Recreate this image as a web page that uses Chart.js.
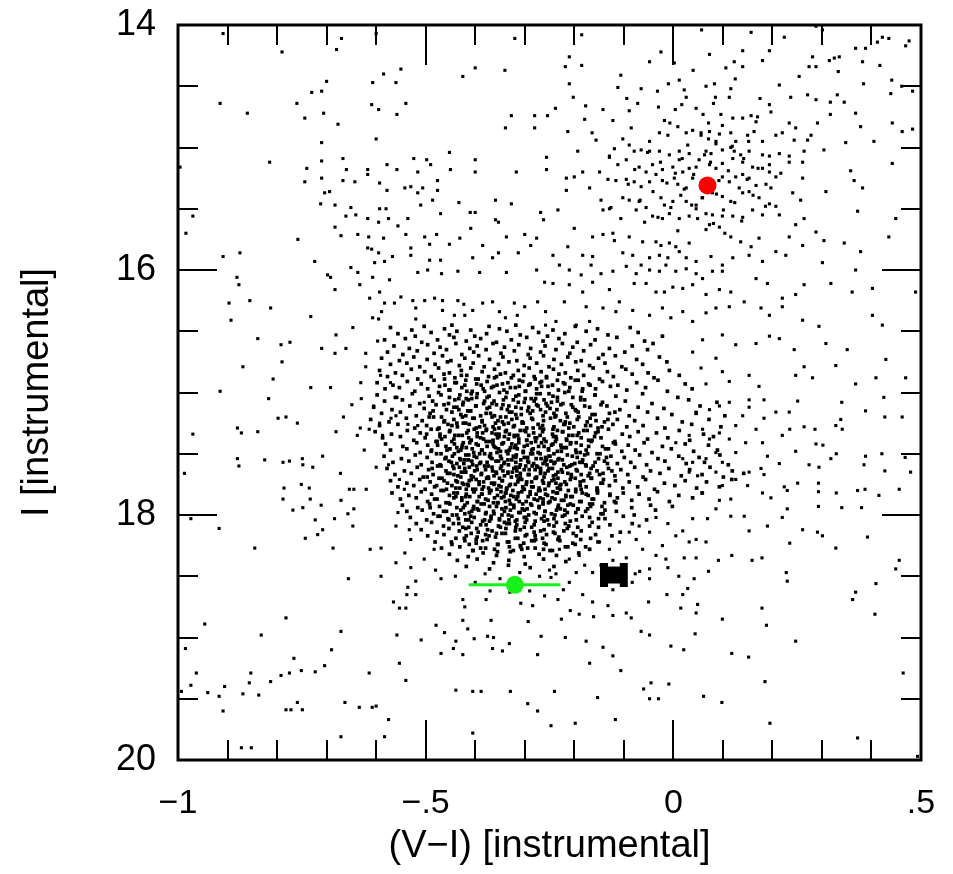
<!DOCTYPE html>
<html>
<head>
<meta charset="utf-8">
<script src="https://cdn.jsdelivr.net/npm/chart.js@4/dist/chart.umd.min.js"></script>
<style>
  html, body { margin: 0; padding: 0; background: #fff; }
  canvas { display: block; }
</style>
</head>
<body>
<canvas id="cmd" width="953" height="874"></canvas>
<script>
// axis ticks
const xTickValues = [-1, -0.5, 0, 0.5];
const xTickText = ["\u22121", "\u2212.5", "0", ".5"];
const yTickValues = [14, 16, 18, 20];
const xMinorTicks = [-0.9, -0.8, -0.7, -0.6, -0.4, -0.3, -0.2, -0.1, 0.1, 0.2, 0.3, 0.4];
const xMajorTicks = [-0.5, 0];
const yMinorTicks = [14.5, 15, 15.5, 16.5, 17, 17.5, 18.5, 19, 19.5];
const yMajorTicks = [16, 18];

// highlighted objects
const redStar = [0.069, 15.31];
const greenStar = [-0.32, 18.57];
const greenErr = [-0.413, -0.228];
const blackStar = [-0.14, -0.10, 18.49];

// field stars: [V-I, I]
const outerUpperLeft = [
[-.909,14.07],[-.79,14.22],[-.68,14.2],[-.67,14.11],[-.6,14.07],[-.32,14.11],[-.55,14.36],[-.585,14.4],[-.607,14.47],[-.56,14.47],[-.425,14.42],[-.4,14.35],[-.34,14.37],[-.7,14.46],[-.73,14.55],[-.71,14.54],[-.915,14.64],[-.76,14.64],[-.86,14.72],[-.744,14.76],[-.706,14.72],[-.677,14.81],[-.609,14.65],[-.595,14.69],[-.558,14.73],[-.54,14.64],[-.6,14.93],[-.71,14.96],[-.339,14.84],[-.327,14.74],[-.28,14.74],[-.28,14.84],[-.254,14.74],[-.815,15.12],[-.996,15.16],[-.71,15.11],[-.667,15.09],[-.74,15.17],[-.66,15.18],[-.617,15.18],[-.744,15.28],[-.71,15.25],[-.667,15.27],[-.643,15.28],[-.617,15.22],[-.593,15.29],[-.578,15.14],[-.558,15.18],[-.524,15.09],[-.516,15.2],[-.498,15.1],[-.49,15.14],[-.476,15.27],[-.452,15.04],[-.45,15.18],[-.4,15.1],[-.4,15.2],[-.317,15.2],[-.256,15.08],[-.256,15.18],[-.704,15.37],[-.694,15.36],[-.578,15.35],[-.542,15.33],[-.53,15.32],[-.516,15.37],[-.506,15.33],[-.476,15.35],[-.486,15.43],[-.51,15.47],[-.433,15.45],[-.359,15.43],[-.327,15.46],[-.712,15.46],[-.683,15.47],[-.651,15.49],[-.593,15.5],[-.58,15.5],[-.97,15.56],[-.984,15.7],[-.641,15.55],[-.661,15.56],[-.617,15.58],[-.595,15.61],[-.575,15.58],[-.536,15.58],[-.47,15.54],[-.41,15.53],[-.4,15.53],[-.359,15.59],[-.353,15.61],[-.268,15.53],[-.262,15.59],[-.683,15.65],[-.671,15.72],[-.637,15.71],[-.615,15.73],[-.585,15.74],[-.556,15.64],[-.54,15.71],[-.502,15.73],[-.492,15.79],[-.478,15.71],[-.452,15.79],[-.431,15.74],[-.409,15.66],[-.385,15.8],[-.337,15.73],[-.3,15.71],[-.276,15.74],[-.288,15.8],[-.758,15.75],[-.909,15.89],[-.875,15.86],[-.724,15.93],[-.617,15.82],[-.609,15.83],[-.595,15.86],[-.567,15.89],[-.53,15.82],[-.53,15.88],[-.492,15.92],[-.47,15.92],[-.405,15.9],[-.365,15.9],[-.353,15.86],[-.313,15.86],[-.603,15.94],[-.583,15.93],[-.651,15.98],[-.637,16.02],[-.692,16.06],[-.698,16.04],[-.683,16.16],[-.633,16.12],[-.607,16.06],[-.573,16.08],[-.516,16.02],[-.496,16],[-.468,16.03],[-.435,16.01],[-.391,16.02],[-.337,16.02],[-.276,16],[-.26,16.1],[-.881,16.06],[-.877,16.12],[-.897,16.27],[-.855,16.25],[-.813,16.31],[-.893,16.41],[-.732,16.38],[-.613,16.23],[-.593,16.18],[-.583,16.27],[-.563,16.27],[-.589,16.34],[-.607,16.39],[-.595,16.4],[-.55,16.22],[-.526,16.25],[-.52,16.31],[-.52,16.4],[-.502,16.25],[-.482,16.23],[-.466,16.25],[-.435,16.25],[-.423,16.28],[-.466,16.33],[-.442,16.37],[-.421,16.37],[-.405,16.33],[-.385,16.27],[-.365,16.26],[-.351,16.34],[-.339,16.39],[-.321,16.27],[-.315,16.37],[-.3,16.3],[-.274,16.26],[-.258,16.34],[-.258,16.45],[-.839,16.56],[-.792,16.61],[-.774,16.59],[-.79,16.75],[-.869,16.79],[-.808,16.89],[-.732,16.96],[-.915,16.99],[-.71,16.64],[-.681,16.53],[-.661,16.64],[-.683,16.68],[-.647,16.47],[-.621,16.68],[-.621,16.79],[-.597,16.58],[-.692,16.96],[-.631,16.92],[-.591,16.86],[-.571,16.92]
];

const outerLowerLeft = [
[-.97,17.34],[-.872,17.33],[-.839,17.32],[-.88,17.29],[-.817,17.05],[-.798,17.21],[-.782,17.2],[-.759,17.25],[-.681,17.32],[-.666,17.2],[-.649,17.1],[-.63,17.05],[-.638,17.35],[-.632,17.29],[-.614,17.3],[-.605,17.11],[-.593,17.25],[-.587,17.35],[-.57,17.21],[-.56,17.19],[-.558,17.04],[-.536,17.26],[-.516,17.27],[-.503,17.08],[-.624,17.47],[-.708,17.52],[-.749,17.54],[-.748,17.59],[-.775,17.56],[-.788,17.57],[-.825,17.55],[-.877,17.6],[-.88,17.54],[-.987,17.66],[-.728,17.61],[-.672,17.66],[-.751,17.75],[-.735,17.78],[-.786,17.78],[-.788,17.87],[-.768,17.96],[-.748,17.94],[-.733,17.87],[-.711,17.92],[-.671,17.88],[-.654,17.79],[-.645,17.79],[-.62,17.79],[-.657,17.99],[-.645,17.95],[-.647,18.09],[-.684,18.03],[-.723,18.04],[-.708,18.12],[-.718,18.16],[-.743,18.19],[-.917,18.11],[-.974,18.03],[-.845,18.27],[-.687,18.27],[-.612,18.28],[-.59,18.27],[-.6,17.61],[-.575,17.59],[-.553,17.71],[-.543,17.79],[-.556,17.98],[-.56,18.09],[-.533,18.12],[-.53,18.2],[-.542,18.31],[-.56,18.39],[-.53,18.43],[-.503,18.36],[-.483,18.28],[-.656,18.52],[-.59,18.5],[-.536,18.59],[-.538,18.65],[-.52,18.65],[-.52,18.54],[-.565,18.71],[-.553,18.76],[-.54,18.76],[-.469,18.52],[-.425,18.69],[-.421,18.75],[-.378,18.69],[-.308,18.72],[-.284,18.74],[-.293,18.87],[-.368,18.86],[-.425,18.86],[-.415,18.93],[-.375,18.99],[-.363,19],[-.402,19.01],[-.439,19.03],[-.462,18.96],[-.479,18.9],[-.509,19.02],[-.558,18.98],[-.444,19.09],[-.425,19.14],[-.469,19.13],[-.365,19.09],[-.345,19.11],[-.331,19.05],[-.274,19.14],[-.267,18.99],[-.671,18.95],[-.69,19.1],[-.782,18.84],[-.832,18.98],[-.946,18.89],[-.985,19.09],[-.766,19.17],[-.704,19.23],[-.723,19.28],[-.751,19.27],[-.775,19.29],[-.792,19.31],[-.813,19.36],[-.853,19.29],[-.856,19.37],[-.837,19.47],[-.869,19.46],[-.906,19.4],[-.917,19.48],[-.94,19.45],[-.974,19.39],[-.993,19.44],[-.963,19.29],[-.909,19.6],[-.782,19.59],[-.772,19.59],[-.749,19.59],[-.759,19.53],[-.663,19.53],[-.634,19.57],[-.608,19.57],[-.6,19.56],[-.614,19.29],[-.553,19.21],[-.54,19.35],[-.575,19.67],[-.671,19.81],[-.583,19.81],[-.405,19.78],[-.439,19.43],[-.405,19.44],[-.388,19.44],[-.329,19.44],[-.294,19.54],[-.274,19.6],[-.872,19.9],[-.852,19.9],
[-.38,18.48],[-.35,18.52],[-.31,18.47],[-.27,18.5],[-.25,18.45],[-.4,18.55],[-.33,18.63],[-.29,18.62],[-.37,18.62],[-.26,18.66],[-.44,18.5],[-.48,18.45]
];

const outerLowerRight = [
[.153,17.06],[.183,17.06],[.251,17.07],[.207,17.16],[.234,17.16],[.183,17.21],[.264,17.28],[.286,17.3],[.235,17.3],[.34,17.08],[.338,17.22],[.341,17.3],[.328,17.27],[.388,17.15],[.425,17.04],[.427,17.2],[.462,17.2],[.288,17.42],[.302,17.43],[.247,17.48],[.329,17.5],[.318,17.54],[.274,17.59],[.294,17.61],[.385,17.59],[.388,17.52],[.421,17.5],[.468,17.53],[.479,17.65],[.427,17.64],[.19,17.52],[.214,17.58],[.177,17.62],[.183,17.67],[.153,17.65],[.15,17.76],[.126,17.71],[.18,17.82],[.197,17.86],[.224,17.77],[.251,17.74],[.23,17.8],[.293,17.74],[.293,17.81],[.329,17.82],[.372,17.8],[.387,17.79],[.415,17.84],[.456,17.79],[.293,17.93],[.34,17.94],[.38,17.94],[.23,17.95],[.22,18.02],[.19,18.09],[.153,18.13],[.261,18.12],[.291,18.14],[.301,18.17],[.392,18.18],[.328,18.27],[.235,18.23],[.179,18.35],[.159,18.37],[.118,18.33],[.091,18.37],[.071,18.46],[.046,18.35],[.022,18.35],[.456,18.37],[.449,18.44],[.409,18.56],[.368,18.63],[.362,18.69],[.407,18.81],[.228,18.47],[.23,18.54],[.179,18.76],[.188,18.9],[.247,19.03],[.118,19.13],[.152,19.16],[.099,18.85],[.046,18.8],[.049,18.73],[.015,18.76],[.029,18.6],[.019,18.65],[.042,18.52],[.011,18.5],[-.011,18.43],[-.013,18.65],[-.05,18.71],[-.065,18.95],[-.048,18.98],[-.005,19.07],[.021,19.1],[.044,18.97],[-.085,18.84],[-.095,18.8],[-.122,18.82],[-.132,18.74],[-.163,18.71],[-.161,18.83],[-.19,18.81],[-.208,18.78],[-.226,18.85],[-.233,18.69],[-.218,19],[-.176,19.03],[-.142,19.08],[-.122,19.15],[-.169,19.21],[-.106,19.27],[-.24,19.44],[-.153,19.49],[-.06,19.42],[-.045,19.37],[-.048,19.5],[-.03,19.5],[-.009,19.38],[.061,19.48],[.098,19.53],[.185,19.36],[.195,19.7],[-.117,19.67],[-.198,19.7],[-.247,19.72],[.372,19.82],[.464,19.29],[.493,19.97],[-.122,18.61],[-.183,18.65],[-.222,18.61],[-.21,18.55],[-.163,18.47],[-.077,18.48],[-.083,18.55],[-.048,18.52],[-.015,18.36],[-.048,18.44],[-.068,18.46],[-.095,18.35],[-.122,18.37],[-.146,18.41],[-.196,18.47],[-.179,18.41],[-.237,18.48],[-.247,18.51]
];

const redSideTail = [
[.086,17.65],[.099,17.76],[.116,17.87],[.143,18.01],[.116,18.01],[.093,17.88],[.059,17.82],[.049,17.68],[.032,17.65],[.086,17.95],[.069,18.03],[.039,18.03],[.019,18.13],[.046,18.2],[.066,18.22],[.032,18.22],[.005,18.17],[-.011,18.07],[-.022,18.25],[-.035,18.33],[-.062,18.28],[-.075,18.2],[-.048,18.14],[-.035,18.02],[-.069,18.09],[-.089,18.14],[-.109,18.22],[-.129,18.28],[-.149,18.22],[-.169,18.28],[-.19,18.33],[-.21,18.36],[-.23,18.28],[.005,17.41],[.032,17.35],[.059,17.3],[.073,17.38],[.093,17.33],[.113,17.38],[.126,17.27],[.146,17.41],[.126,17.49],[.086,17.49],[.099,17.57],[.066,17.54],[.039,17.57],[.019,17.54],[.046,17.16],[.073,17.14],[.093,17.11],[.113,17.08],[.153,17.12],[.14,17.19],[.167,17.3],[.18,17.41],[.22,17.35]
];

const clumpStars = [
[.057,14.04],[.157,14.06],[.194,14.21],[.224,14.1],[.288,14.01],[.301,14.04],[.422,14.1],[.435,14.11],[.368,14.19],[.388,14.19],[.476,14.13],[.469,14.17],[.412,14.14],[-.185,14.08],[-.21,14.26],[-.185,14.33],[-.218,14.34],[-.025,14.22],[-.048,14.3],[.002,14.31],[.04,14.37],[.073,14.24],[.106,14.35],[.123,14.3],[.14,14.34],[.18,14.29],[.14,14.21],[.281,14.26],[.288,14.34],[.274,14.34],[.315,14.29],[.335,14.26],[.325,14.27],[.382,14.3],[.417,14.33],[.333,14.38],[.254,14.42],[.441,14.45],[.384,14.48],[.461,14.5],[.483,14.54],[.439,14.56],
[-.106,14.41],[-.21,14.48],[-.112,14.51],[-.065,14.52],[-.032,14.54],[-.01,14.48],[.012,14.45],[.022,14.53],[.026,14.59],[.066,14.5],[.083,14.48],[.085,14.59],[.116,14.52],[.113,14.59],[.125,14.44],[.175,14.6],[.214,14.49],[.237,14.59],[.271,14.57],[.288,14.61],[.331,14.57],[.345,14.63],[.317,14.63],[-.202,14.59],[-.238,14.68],[-.177,14.66],[-.142,14.69],[-.094,14.6],[-.089,14.7],[-.072,14.64],[-.03,14.67],[-.018,14.78],[-.007,14.8],[.004,14.69],[.017,14.65],[.046,14.68],[.06,14.73],[.071,14.8],[.081,14.64],[.096,14.73],[.099,14.82],[.12,14.76],[.14,14.76],[.157,14.74],[.17,14.75],[.197,14.71],[.167,14.79],[.194,14.65],[.234,14.8],[.247,14.84],[.291,14.8],[.317,14.73],[.368,14.72],[.378,14.83],[.442,14.8],[.462,14.87],[.483,14.85],[-.122,14.78],[-.179,14.77],[-.164,14.88],[-.213,14.87],
[-.085,14.84],[-.102,14.93],[-.048,14.95],[-.028,14.88],[-.011,14.9],[.009,14.83],[.026,14.88],[.039,14.86],[.056,14.9],[.073,14.87],[.086,14.95],[.093,14.89],[.116,14.88],[.126,14.95],[.15,14.9],[.163,14.87],[.18,14.95],[.207,14.9],[.22,14.88],[.244,14.94],[.271,14.94],[.278,14.9],[.348,14.96],[.405,14.95],[-.156,14.94],[-.193,15.03],[-.129,15.07],[-.119,15.01],[-.089,14.98],[-.079,15.03],[-.065,15.02],[-.048,15.03],[-.028,15.03],[-.008,15.06],[.012,15.03],[.012,15.1],[.032,15.05],[.052,15.1],[.066,15.03],[.076,15.05],[.086,14.97],[.099,15.02],[.116,15],[.123,15.03],[.136,15.06],[.153,15.03],[.18,15.06],[.194,15.07],[.214,15.05],[.234,15.07],[.264,15.03],[.304,15.02],[.261,15.12],[.234,15.12],[.194,15.14],[.18,15.17],[.16,15.16],[.14,15.12],[.12,15.09],[.099,15.13],[.086,15.17],[.073,15.14],[.046,15.16],[.032,15.17],[.019,15.2],[-.001,15.16],[-.022,15.18],[-.042,15.14],[-.055,15.2],[-.069,15.16],[-.095,15.1],[-.112,15.14],[-.129,15.08],[-.149,15.2],[-.183,15.2],[-.2,15.24],[-.216,15.25],[.442,15.13],[.358,15.19],[.365,15.27],[.382,15.33],
[-.216,15.35],[-.169,15.33],[-.132,15.26],[-.116,15.27],[-.095,15.26],[-.079,15.28],[-.065,15.32],[-.048,15.28],[-.035,15.22],[-.022,15.27],[.002,15.25],[.009,15.3],[.026,15.33],[.039,15.25],[.099,15.24],[.113,15.28],[.126,15.24],[.14,15.22],[.153,15.25],[.167,15.31],[.187,15.3],[.207,15.24],[.194,15.2],[.241,15.37],[.257,15.43],[.261,15.25],[.308,15.36],[.372,15.52],[.449,15.58],[-.146,15.43],[-.129,15.5],[-.102,15.41],[-.089,15.43],[-.069,15.44],[-.055,15.49],[-.025,15.41],[-.018,15.47],[-.001,15.44],[.015,15.39],[.026,15.44],[.046,15.47],[.059,15.41],[.079,15.37],[.099,15.4],[.116,15.44],[.14,15.37],[.153,15.36],[.173,15.41],[.194,15.46],[.207,15.48],[.214,15.55],[.18,15.55],[.16,15.51],[.14,15.57],[.12,15.56],[.099,15.56],[.079,15.55],[.066,15.54],[.046,15.5],[.032,15.56],[.012,15.58],[-.008,15.54],[-.022,15.58],[-.042,15.56],[-.058,15.61],[-.075,15.51],[-.106,15.58],[-.126,15.49],[-.142,15.51],[-.233,15.51],[.247,15.63],[.264,15.58],
[-.2,15.66],[-.243,15.88],[-.163,15.73],[-.142,15.71],[-.122,15.7],[-.119,15.76],[-.089,15.73],[-.062,15.77],[-.035,15.77],[-.025,15.8],[-.008,15.78],[.005,15.81],[.032,15.78],[.066,15.67],[.073,15.63],[.093,15.65],[.116,15.73],[.136,15.77],[.157,15.81],[.173,15.74],[.207,15.85],[.234,15.73],[.261,15.8],[.288,15.69],[.304,15.76],[.345,15.78],[.378,15.85],[.435,15.73],[-.213,15.81],[-.183,15.88],[-.163,15.89],[-.102,15.86],[-.082,15.88],[-.065,15.96],[-.048,15.9],[-.028,15.88],[-.011,15.9],[.012,15.85],[.026,15.9],[.046,15.93],[.076,15.89],[.099,15.96],[.12,15.9],[.153,15.88],[.18,15.93],[.227,15.88],[.301,15.94],[.368,16],[-.23,15.96],[-.21,16],[-.166,15.96],[-.186,16.04],[-.146,16.03],[-.122,16.01],[-.095,15.97],[-.075,16.03],[-.048,16],[-.028,16.01],[-.015,15.96],[.005,16.01],[.026,15.99],[.046,16.03],[.059,16.07],[.079,16.01],[.099,16.01],
[-.243,16.11],[-.21,16.12],[-.183,16.18],[-.163,16.1],[-.129,16.16],[-.109,16.26],[-.079,16.11],[-.055,16.11],[-.035,16.18],[-.018,16.18],[-.001,16.14],[.019,16.15],[.039,16.12],[.066,16.2],[.093,16.16],[.116,16.18],[.167,16.07],[.19,16.11],[.22,16.23],[.247,16.2],[.264,16.12],[.318,16.11],[.361,16.18],[.402,16.15],[.489,16.18],[-.22,16.26],[-.176,16.3],[-.142,16.31],[-.116,16.34],[-.082,16.33],[-.048,16.37],[-.022,16.31],[-.005,16.39],[.019,16.34],[.039,16.42],[.066,16.35],[.086,16.31],[.113,16.3],[.143,16.26],[.177,16.31],[.194,16.37],[.22,16.3],[.261,16.41],[.294,16.46],[.402,16.37],[.422,16.45],[-.237,16.42],[-.196,16.45],[-.169,16.42],
[.099,16.53],[.126,16.61],[.167,16.6],[.214,16.56],[.244,16.65],[.194,16.54],[.308,16.6],[.351,16.65],[.328,16.78],[.429,16.73],[.469,16.88],[.247,16.86],[.264,16.79],[.153,16.86],[.173,16.95],[.281,16.88],[.409,16.88],[.368,16.93],[.059,16.57],[.039,16.67],[.086,16.72],[.056,16.8],[.099,16.83],[.066,16.93],[.113,16.91]
];

// extra stars packed round the red star
const clumpDense = [
[.041,15.22],[.092,15.27],[.022,15.34],[.111,15.19],[.058,15.41],[-.013,15.29],[.133,15.33],[.075,15.12],[.004,15.21],[.149,15.26],[.037,15.47],[.087,15.38],[-.041,15.36],[.124,15.45],[.063,15.06],[-.026,15.12],[.171,15.17],[.018,15.09],[.101,15.51],[-.067,15.43],[.142,15.09],[.049,15.58],[-.005,15.49],[.161,15.39],[.081,15.62],[-.052,15.04],[.197,15.33],[.029,14.98],[.119,14.99],[-.091,15.3],[.071,14.93],[.186,15.48],[-.031,15.57],[.138,15.6],[.009,15.68],[.217,15.21],[-.078,15.18],[.104,15.7],[.056,14.88],[.152,14.95]
];

const bandStars = [
[-.571,16.47],[-.528,16.49],[-.503,16.46],[-.462,16.48],[-.447,16.45],[-.409,16.49],[-.372,16.46],[-.351,16.48],[-.318,16.45],[-.284,16.47],[-.243,16.49],[-.198,16.46],[-.153,16.48],[-.087,16.47],
[-.556,16.52],[-.521,16.54],[-.489,16.51],[-.452,16.53],[-.437,16.5],[-.401,16.54],[-.377,16.52],[-.336,16.5],[-.309,16.53],[-.272,16.51],[-.254,16.54],[-.219,16.52],[-.176,16.5],[-.132,16.53],[-.071,16.51],[-.022,16.54],
[-.583,16.57],[-.541,16.56],[-.508,16.59],[-.476,16.57],[-.443,16.55],[-.418,16.58],[-.389,16.56],[-.357,16.59],[-.327,16.57],[-.296,16.55],[-.263,16.58],[-.231,16.56],[-.194,16.59],[-.158,16.57],[-.114,16.55],[-.058,16.58],
[-.564,16.62],[-.533,16.64],[-.496,16.61],[-.471,16.63],[-.439,16.6],[-.411,16.64],[-.396,16.62],[-.364,16.6],[-.341,16.63],[-.312,16.61],[-.288,16.64],[-.259,16.62],[-.224,16.6],[-.203,16.63],[-.167,16.61],[-.129,16.64],[-.083,16.62],[-.041,16.6],
[-.577,16.67],[-.546,16.69],[-.517,16.66],[-.483,16.68],[-.458,16.65],[-.427,16.69],[-.403,16.67],[-.378,16.65],[-.348,16.68],[-.321,16.66],[-.293,16.69],[-.268,16.67],[-.237,16.65],[-.209,16.68],[-.181,16.66],[-.142,16.69],[-.098,16.67],[-.052,16.65],
[-.589,16.72],[-.553,16.74],[-.524,16.71],[-.497,16.73],[-.466,16.7],[-.449,16.74],[-.421,16.72],[-.393,16.7],[-.371,16.73],[-.344,16.71],[-.316,16.74],[-.289,16.72],[-.262,16.7],[-.241,16.73],[-.213,16.71],[-.186,16.74],[-.151,16.72],[-.117,16.7],[-.074,16.73],[-.028,16.71],
[-.571,16.77],[-.538,16.76],[-.512,16.79],[-.481,16.77],[-.456,16.75],[-.432,16.78],[-.404,16.76],[-.382,16.79],[-.353,16.77],[-.332,16.75],[-.301,16.78],[-.276,16.76],[-.251,16.79],[-.226,16.77],[-.197,16.75],[-.169,16.78],[-.138,16.76],[-.104,16.79],[-.062,16.77],[-.013,16.75],
[-.593,16.82],[-.561,16.84],[-.529,16.81],[-.502,16.83],[-.474,16.8],[-.452,16.84],[-.428,16.82],[-.409,16.8],[-.386,16.83],[-.361,16.81],[-.339,16.84],[-.313,16.82],[-.291,16.8],[-.267,16.83],[-.242,16.81],[-.218,16.84],[-.193,16.82],[-.162,16.8],[-.133,16.83],[-.096,16.81],[-.051,16.84],[-.008,16.82],
[-.577,16.87],[-.547,16.86],[-.516,16.89],[-.489,16.87],[-.463,16.85],[-.441,16.88],[-.417,16.86],[-.394,16.89],[-.373,16.87],[-.349,16.85],[-.327,16.88],[-.302,16.86],[-.279,16.89],[-.256,16.87],[-.231,16.85],[-.207,16.88],[-.181,16.86],[-.149,16.89],[-.121,16.87],[-.083,16.85],[-.039,16.88],[.012,16.86],
[-.598,16.92],[-.566,16.94],[-.537,16.91],[-.509,16.93],[-.483,16.9],[-.461,16.94],[-.438,16.92],[-.419,16.9],[-.397,16.93],[-.376,16.91],[-.356,16.94],[-.334,16.92],[-.311,16.9],[-.289,16.93],[-.266,16.91],[-.244,16.94],[-.222,16.92],[-.198,16.9],[-.171,16.93],[-.143,16.91],[-.112,16.94],[-.074,16.92],[-.031,16.9],[.024,16.93],
[-.582,16.97],[-.553,16.96],[-.522,16.99],[-.496,16.97],[-.472,16.95],[-.451,16.98],[-.427,16.96],[-.406,16.99],[-.384,16.97],[-.363,16.95],[-.342,16.98],[-.319,16.96],[-.298,16.99],[-.276,16.97],[-.253,16.95],[-.232,16.98],[-.209,16.96],[-.184,16.99],[-.157,16.97],[-.127,16.95],[-.094,16.98],[-.056,16.96],[-.012,16.99],[.038,16.97]
];

const coreStars = [
[-.598,17.02],[-.561,17.04],[-.527,17.01],[-.493,17.03],[-.474,17],[-.452,17.04],[-.431,17.02],[-.418,17.05],[-.396,17.01],[-.372,17.03],[-.351,17],[-.338,17.04],[-.312,17.02],[-.287,17.05],[-.269,17.01],[-.243,17.03],[-.219,17],[-.187,17.04],[-.158,17.02],[-.116,17.03],[-.062,17.01],[.009,17.04],
[-.583,17.07],[-.547,17.06],[-.512,17.09],[-.486,17.07],[-.463,17.1],[-.441,17.06],[-.424,17.08],[-.407,17.05],[-.383,17.09],[-.362,17.07],[-.344,17.1],[-.323,17.06],[-.301,17.08],[-.278,17.05],[-.257,17.09],[-.234,17.07],[-.206,17.1],[-.179,17.06],[-.143,17.08],[-.097,17.07],[-.043,17.09],[.031,17.06],[.088,17.08],
[-.605,17.12],[-.568,17.14],[-.532,17.11],[-.503,17.13],[-.479,17.1],[-.458,17.14],[-.437,17.12],[-.415,17.15],[-.399,17.11],[-.376,17.13],[-.357,17.1],[-.335,17.14],[-.318,17.12],[-.294,17.15],[-.273,17.11],[-.249,17.13],[-.227,17.1],[-.198,17.14],[-.169,17.12],[-.134,17.11],[-.108,17.14],[-.071,17.12],[-.019,17.13],[.054,17.11],
[-.589,17.17],[-.551,17.16],[-.519,17.19],[-.491,17.17],[-.468,17.2],[-.447,17.16],[-.429,17.18],[-.411,17.15],[-.389,17.19],[-.369,17.17],[-.349,17.2],[-.331,17.16],[-.307,17.18],[-.284,17.15],[-.263,17.19],[-.241,17.17],[-.214,17.2],[-.192,17.16],[-.164,17.18],[-.129,17.17],[-.089,17.19],[-.052,17.16],[-.003,17.18],[.046,17.17],[.104,17.19],
[-.611,17.22],[-.574,17.24],[-.539,17.21],[-.507,17.23],[-.484,17.2],[-.463,17.24],[-.443,17.22],[-.424,17.25],[-.405,17.21],[-.386,17.23],[-.366,17.2],[-.345,17.24],[-.326,17.22],[-.305,17.25],[-.286,17.21],[-.262,17.23],[-.239,17.2],[-.218,17.24],[-.194,17.22],[-.168,17.21],[-.139,17.24],[-.113,17.22],[-.078,17.23],[-.032,17.21],[.018,17.24],[.072,17.22],
[-.593,17.27],[-.556,17.26],[-.522,17.29],[-.498,17.27],[-.476,17.3],[-.455,17.26],[-.436,17.28],[-.419,17.25],[-.398,17.29],[-.381,17.27],[-.361,17.3],[-.342,17.26],[-.323,17.28],[-.303,17.25],[-.283,17.29],[-.264,17.27],[-.243,17.3],[-.221,17.26],[-.201,17.28],[-.177,17.27],[-.152,17.29],[-.122,17.26],[-.094,17.28],[-.061,17.27],[-.017,17.29],[.037,17.26],[.096,17.28],
[-.602,17.32],[-.569,17.34],[-.537,17.31],[-.511,17.33],[-.489,17.3],[-.471,17.34],[-.452,17.32],[-.433,17.35],[-.414,17.31],[-.396,17.33],[-.377,17.3],[-.358,17.34],[-.339,17.32],[-.321,17.35],[-.301,17.31],[-.282,17.33],[-.262,17.3],[-.244,17.34],[-.223,17.32],[-.203,17.35],[-.181,17.31],[-.157,17.33],[-.131,17.3],[-.103,17.34],[-.071,17.32],[-.034,17.33],[.012,17.31],[.061,17.34],
[-.587,17.37],[-.551,17.36],[-.524,17.39],[-.501,17.37],[-.479,17.4],[-.461,17.36],[-.443,17.38],[-.426,17.35],[-.408,17.39],[-.389,17.37],[-.371,17.4],[-.352,17.36],[-.333,17.38],[-.314,17.35],[-.296,17.39],[-.276,17.37],[-.257,17.4],[-.237,17.36],[-.216,17.38],[-.194,17.35],[-.171,17.39],[-.146,17.37],[-.118,17.4],[-.088,17.36],[-.052,17.38],[-.011,17.37],[.033,17.39],[.081,17.36],
[-.581,17.42],[-.546,17.44],[-.518,17.41],[-.496,17.43],[-.477,17.4],[-.459,17.44],[-.442,17.42],[-.427,17.45],[-.411,17.41],[-.394,17.43],[-.378,17.4],[-.362,17.44],[-.346,17.42],[-.329,17.45],[-.312,17.41],[-.295,17.43],[-.278,17.4],[-.261,17.44],[-.243,17.42],[-.226,17.45],[-.207,17.41],[-.186,17.43],[-.166,17.4],[-.143,17.44],[-.117,17.42],[-.091,17.43],[-.059,17.41],[-.022,17.44],[.024,17.42],[.071,17.43],
[-.571,17.47],[-.538,17.46],[-.511,17.49],[-.488,17.47],[-.469,17.5],[-.451,17.46],[-.434,17.48],[-.418,17.45],[-.403,17.49],[-.386,17.47],[-.369,17.5],[-.353,17.46],[-.337,17.48],[-.321,17.45],[-.303,17.49],[-.286,17.47],[-.269,17.5],[-.252,17.46],[-.234,17.48],[-.216,17.45],[-.196,17.49],[-.176,17.47],[-.154,17.5],[-.131,17.46],[-.104,17.48],[-.077,17.47],[-.043,17.49],[-.004,17.46],[.041,17.48],[.089,17.47],
[-.584,17.52],[-.549,17.54],[-.521,17.51],[-.497,17.53],[-.478,17.5],[-.461,17.54],[-.446,17.52],[-.429,17.55],[-.413,17.51],[-.397,17.53],[-.381,17.5],[-.366,17.54],[-.349,17.52],[-.334,17.55],[-.317,17.51],[-.301,17.53],[-.284,17.5],[-.267,17.54],[-.251,17.52],[-.233,17.55],[-.214,17.51],[-.194,17.53],[-.173,17.5],[-.151,17.54],[-.126,17.52],[-.099,17.53],[-.068,17.51],[-.031,17.54],[.011,17.52],[.052,17.53],[.094,17.51],
[-.566,17.57],[-.534,17.56],[-.509,17.59],[-.487,17.57],[-.469,17.6],[-.453,17.56],[-.437,17.58],[-.421,17.55],[-.405,17.59],[-.389,17.57],[-.374,17.6],[-.358,17.56],[-.342,17.58],[-.326,17.55],[-.309,17.59],[-.292,17.57],[-.276,17.6],[-.259,17.56],[-.241,17.58],[-.224,17.55],[-.205,17.59],[-.184,17.57],[-.162,17.6],[-.139,17.56],[-.113,17.58],[-.086,17.57],[-.054,17.59],[-.017,17.56],[.026,17.58],[.063,17.57],[.111,17.59],
[-.578,17.62],[-.543,17.64],[-.517,17.61],[-.494,17.63],[-.476,17.6],[-.459,17.64],[-.443,17.62],[-.428,17.65],[-.412,17.61],[-.396,17.63],[-.381,17.6],[-.365,17.64],[-.349,17.62],[-.334,17.65],[-.318,17.61],[-.301,17.63],[-.285,17.6],[-.268,17.64],[-.251,17.62],[-.233,17.65],[-.215,17.61],[-.196,17.63],[-.176,17.6],[-.154,17.64],[-.131,17.62],[-.106,17.63],[-.078,17.61],[-.046,17.64],[-.009,17.62],[.033,17.63],[.074,17.61],[.119,17.64],
[-.562,17.67],[-.529,17.66],[-.505,17.69],[-.485,17.67],[-.467,17.7],[-.451,17.66],[-.435,17.68],[-.419,17.65],[-.404,17.69],[-.388,17.67],[-.373,17.7],[-.357,17.66],[-.341,17.68],[-.325,17.65],[-.309,17.69],[-.293,17.67],[-.277,17.7],[-.259,17.66],[-.242,17.68],[-.224,17.65],[-.206,17.69],[-.186,17.67],[-.165,17.7],[-.142,17.66],[-.118,17.68],[-.092,17.67],[-.061,17.69],[-.027,17.66],[.016,17.68],[.058,17.67],[.101,17.69],[.142,17.66],
[-.571,17.72],[-.538,17.74],[-.512,17.71],[-.491,17.73],[-.473,17.7],[-.456,17.74],[-.439,17.72],[-.423,17.75],[-.408,17.71],[-.392,17.73],[-.377,17.7],[-.361,17.74],[-.345,17.72],[-.329,17.75],[-.313,17.71],[-.296,17.73],[-.279,17.7],[-.262,17.74],[-.245,17.72],[-.227,17.75],[-.208,17.71],[-.188,17.73],[-.166,17.7],[-.143,17.74],[-.117,17.72],[-.089,17.73],[-.056,17.71],[-.018,17.74],[.024,17.72],[.067,17.73],[.118,17.71],
[-.556,17.77],[-.524,17.76],[-.501,17.79],[-.482,17.77],[-.464,17.8],[-.447,17.76],[-.431,17.78],[-.415,17.75],[-.399,17.79],[-.383,17.77],[-.368,17.8],[-.352,17.76],[-.336,17.78],[-.319,17.75],[-.303,17.79],[-.286,17.77],[-.269,17.8],[-.252,17.76],[-.234,17.78],[-.216,17.75],[-.197,17.79],[-.176,17.77],[-.154,17.8],[-.129,17.76],[-.102,17.78],[-.072,17.77],[-.038,17.79],[.003,17.76],[.047,17.78],[.093,17.77],
[-.568,17.82],[-.534,17.84],[-.509,17.81],[-.488,17.83],[-.469,17.8],[-.452,17.84],[-.436,17.82],[-.419,17.85],[-.403,17.81],[-.387,17.83],[-.371,17.8],[-.355,17.84],[-.339,17.82],[-.322,17.85],[-.306,17.81],[-.289,17.83],[-.272,17.8],[-.254,17.84],[-.236,17.82],[-.217,17.85],[-.197,17.81],[-.176,17.83],[-.153,17.8],[-.128,17.84],[-.101,17.82],[-.069,17.83],[-.032,17.81],[.011,17.84],[.058,17.82],
[-.551,17.87],[-.519,17.86],[-.496,17.89],[-.477,17.87],[-.459,17.9],[-.443,17.86],[-.427,17.88],[-.411,17.85],[-.395,17.89],[-.379,17.87],[-.363,17.9],[-.347,17.86],[-.331,17.88],[-.314,17.85],[-.297,17.89],[-.281,17.87],[-.263,17.9],[-.245,17.86],[-.226,17.88],[-.207,17.85],[-.186,17.89],[-.164,17.87],[-.139,17.9],[-.113,17.86],[-.084,17.88],[-.049,17.87],[-.008,17.89],[.039,17.86],
[-.547,17.92],[-.516,17.94],[-.492,17.91],[-.472,17.93],[-.454,17.9],[-.437,17.94],[-.421,17.92],[-.404,17.95],[-.388,17.91],[-.371,17.93],[-.355,17.9],[-.338,17.94],[-.322,17.92],[-.305,17.95],[-.288,17.91],[-.271,17.93],[-.252,17.9],[-.233,17.94],[-.213,17.92],[-.192,17.95],[-.169,17.91],[-.144,17.93],[-.116,17.9],[-.084,17.94],[-.046,17.92],[-.002,17.93],
[-.538,17.97],[-.507,17.96],[-.484,17.99],[-.464,17.97],[-.446,18],[-.429,17.96],[-.412,17.98],[-.396,17.95],[-.379,17.99],[-.363,17.97],[-.346,18],[-.329,17.96],[-.312,17.98],[-.295,17.95],[-.277,17.99],[-.259,17.97],[-.239,18],[-.219,17.96],[-.197,17.98],[-.173,17.95],[-.146,17.99],[-.115,17.97],[-.079,18],[-.036,17.96],
[-.531,18.02],[-.498,18.04],[-.475,18.01],[-.455,18.03],[-.437,18],[-.419,18.04],[-.402,18.02],[-.385,18.05],[-.368,18.01],[-.351,18.03],[-.333,18],[-.316,18.04],[-.298,18.02],[-.279,18.05],[-.261,18.01],[-.241,18.03],[-.219,18],[-.196,18.04],[-.169,18.02],[-.138,18.03],[-.101,18.01],[-.054,18.04],
[-.519,18.07],[-.488,18.06],[-.464,18.09],[-.444,18.07],[-.425,18.1],[-.407,18.06],[-.389,18.08],[-.371,18.05],[-.353,18.09],[-.336,18.07],[-.318,18.1],[-.299,18.06],[-.281,18.08],[-.261,18.05],[-.241,18.09],[-.218,18.07],[-.193,18.1],[-.164,18.06],[-.128,18.08],[-.083,18.07],
[-.509,18.12],[-.477,18.14],[-.453,18.11],[-.432,18.13],[-.413,18.1],[-.394,18.14],[-.375,18.12],[-.357,18.15],[-.338,18.11],[-.319,18.13],[-.301,18.1],[-.281,18.14],[-.261,18.12],[-.239,18.15],[-.214,18.11],[-.186,18.13],[-.151,18.1],[-.107,18.14],
[-.496,18.17],[-.463,18.16],[-.439,18.19],[-.418,18.17],[-.398,18.2],[-.379,18.16],[-.359,18.18],[-.339,18.15],[-.319,18.19],[-.299,18.17],[-.278,18.2],[-.256,18.16],[-.231,18.18],[-.202,18.15],[-.167,18.19],[-.124,18.17],
[-.481,18.22],[-.447,18.24],[-.421,18.21],[-.398,18.23],[-.376,18.2],[-.354,18.24],[-.332,18.22],[-.309,18.25],[-.286,18.21],[-.261,18.23],[-.233,18.2],[-.198,18.24],[-.152,18.22],
[-.468,18.27],[-.431,18.26],[-.404,18.29],[-.379,18.27],[-.355,18.3],[-.331,18.26],[-.306,18.28],[-.279,18.27],[-.249,18.29],[-.213,18.26],[-.169,18.28],
[-.452,18.32],[-.414,18.34],[-.384,18.31],[-.357,18.33],[-.329,18.3],[-.301,18.34],[-.271,18.32],[-.236,18.33],[-.191,18.31],
[-.436,18.37],[-.396,18.36],[-.363,18.39],[-.332,18.37],[-.299,18.4],[-.262,18.36],[-.217,18.38],
[-.418,18.42],[-.371,18.44],[-.333,18.41],[-.289,18.43],[-.241,18.42]
];

// the blackest part of the cloud, densest near V-I = -0.3, I = 17.7
const coreDense = [
[-.361,16.88],[-.292,16.94],[-.417,16.99],[-.234,16.9],[-.376,17.04],[-.183,16.97],[-.441,16.92],[-.318,17.03],[-.266,16.95],[-.399,16.89],[-.336,17],[-.203,17.04],[-.469,17.02],[-.251,17.01],[-.428,16.86],[-.304,16.91],[-.367,16.96],[-.158,17.02],[-.281,16.87],[-.453,16.98],[-.219,16.93],[-.388,16.94],[-.323,16.86],[-.256,16.88],[-.433,17.05],[-.192,16.9],[-.345,16.93],[-.299,16.99],[-.234,17.04],[-.408,17.01],[-.357,16.87],[-.168,16.94],[-.276,17.01],[-.421,16.94],[-.329,16.96],[-.211,16.99],[-.269,16.92],[-.381,16.99],[-.462,16.89],[-.311,16.95],
[-.347,17.13],[-.281,17.07],[-.402,17.21],[-.219,17.26],[-.366,17.09],[-.158,17.18],[-.433,17.14],[-.305,17.24],[-.254,17.11],[-.391,17.28],[-.326,17.16],[-.187,17.06],[-.462,17.23],[-.237,17.19],[-.414,17.06],[-.296,17.29],[-.359,17.25],[-.132,17.22],[-.268,17.14],[-.447,17.27],[-.203,17.12],[-.378,17.17],[-.313,17.08],[-.241,17.28],[-.425,17.1],[-.174,17.24],[-.338,17.2],[-.289,17.17],[-.485,17.15],[-.228,17.23],[-.397,17.04],[-.352,17.29],[-.146,17.1],[-.273,17.26],[-.419,17.19],[-.321,17.27],[-.196,17.15],[-.261,17.06],[-.371,17.12],[-.454,17.09],[-.307,17.13],[-.211,17.29],[-.343,17.06],[-.248,17.21],[-.386,17.24],[-.167,17.27],[-.284,17.22],[-.437,17.25],[-.332,17.11],[-.223,17.09],[-.409,17.15],[-.276,17.1],[-.118,17.16],[-.361,17.19],[-.473,17.29],[-.235,17.14],[-.299,17.05],[-.191,17.2],[-.354,17.23],[-.426,17.2],[-.258,17.16],[-.316,17.21],[-.381,17.07],[-.209,17.25],[-.144,17.28],[-.443,17.12],[-.269,17.29],[-.333,17.25],[-.398,17.11],[-.179,17.11],[-.292,17.12],[-.217,17.17],[-.364,17.28],[-.493,17.2],[-.246,17.08],[-.318,17.18],[-.412,17.26],[-.156,17.23],
[-.352,17.34],[-.287,17.41],[-.413,17.37],[-.226,17.48],[-.371,17.52],[-.164,17.39],[-.437,17.45],[-.309,17.31],[-.258,17.53],[-.398,17.42],[-.331,17.47],[-.191,17.33],[-.468,17.38],[-.242,17.36],[-.419,17.51],[-.301,17.44],[-.364,17.39],[-.137,17.46],[-.273,17.49],[-.451,17.31],[-.208,17.42],[-.385,17.33],[-.318,17.53],[-.246,17.43],[-.429,17.47],[-.179,17.51],[-.341,17.36],[-.292,17.35],[-.489,17.48],[-.231,17.54],[-.402,17.3],[-.356,17.49],[-.152,17.32],[-.279,17.37],[-.424,17.41],[-.326,17.42],[-.197,17.47],[-.264,17.32],[-.376,17.44],[-.459,17.53],[-.312,17.38],[-.215,17.39],[-.347,17.54],[-.252,17.47],[-.391,17.5],[-.171,17.44],[-.288,17.5],[-.441,17.35],[-.337,17.31],[-.224,17.32],[-.406,17.46],[-.277,17.54],[-.121,17.41],[-.366,17.33],[-.476,17.43],[-.238,17.4],[-.303,17.48],[-.186,17.37],[-.359,17.45],[-.431,17.54],[-.261,17.38],[-.321,17.36],[-.383,17.38],[-.204,17.52],[-.148,17.5],[-.447,17.4],[-.272,17.44],[-.334,17.5],[-.396,17.36],[-.183,17.55],[-.296,17.39],[-.219,17.45],[-.369,17.53],[-.498,17.34],[-.249,17.52],[-.315,17.46],[-.417,17.33],[-.159,17.36],[-.343,17.41],[-.283,17.46],[-.387,17.47],[-.234,17.31],[-.308,17.55],[-.426,17.43],[-.196,17.41],[-.355,17.37],[-.266,17.41],[-.414,17.55],[-.323,17.52],[-.241,17.5],[-.378,17.31],[-.135,17.53],[-.457,17.47],[-.298,17.32],[-.211,17.35],[-.349,17.48],[-.402,17.52],[-.174,17.31],[-.269,17.35],[-.331,17.34],[-.442,17.5],[-.227,17.43],[-.294,17.53],[-.364,17.42],[-.256,17.55],[-.188,17.49],[-.409,17.39],[-.318,17.43],[-.471,17.36],[-.236,17.38],
[-.341,17.57],[-.279,17.63],[-.408,17.68],[-.221,17.59],[-.367,17.74],[-.169,17.66],[-.432,17.61],[-.304,17.77],[-.253,17.64],[-.391,17.58],[-.327,17.69],[-.188,17.76],[-.463,17.72],[-.241,17.71],[-.418,17.79],[-.298,17.6],[-.358,17.65],[-.141,17.71],[-.271,17.78],[-.448,17.57],[-.206,17.67],[-.379,17.63],[-.314,17.73],[-.247,17.56],[-.426,17.74],[-.177,17.59],[-.337,17.79],[-.291,17.67],[-.487,17.62],[-.229,17.76],[-.398,17.71],[-.353,17.56],[-.154,17.78],[-.276,17.69],[-.421,17.65],[-.322,17.62],[-.198,17.7],[-.263,17.58],[-.373,17.78],[-.456,17.66],[-.309,17.66],[-.212,17.8],[-.346,17.72],[-.251,17.74],[-.387,17.66],[-.166,17.62],[-.286,17.73],[-.439,17.78],[-.333,17.59],[-.226,17.63],[-.407,17.56],[-.274,17.61],[-.124,17.64],[-.362,17.68],[-.478,17.76],[-.237,17.67],[-.301,17.79],[-.189,17.57],[-.356,17.79],[-.429,17.69],[-.259,17.79],[-.318,17.57],[-.383,17.73],[-.209,17.6],[-.146,17.74],[-.445,17.6],[-.268,17.66],[-.331,17.76],[-.397,17.6],[-.181,17.72],[-.294,17.56],[-.219,17.73],[-.366,17.61],[-.497,17.69],[-.244,17.62],[-.316,17.64],[-.414,17.76],[-.158,17.57],[-.344,17.64],[-.282,17.58],[-.386,17.79],[-.233,17.7],[-.306,17.71],[-.423,17.58],[-.194,17.64],[-.351,17.7],[-.264,17.72],[-.412,17.72],[-.324,17.8],[-.239,17.57],[-.376,17.57],[-.133,17.58],[-.458,17.79],[-.297,17.75],[-.213,17.66],[-.347,17.6],[-.401,17.64],[-.172,17.68],[-.268,17.62],[-.334,17.66],[-.443,17.67],[-.228,17.79],[-.291,17.63],[-.362,17.75],[-.255,17.59],[-.186,17.79],[-.405,17.79],[-.316,17.68],[-.471,17.59],[-.237,17.74],[-.374,17.69],[-.283,17.77],[-.199,17.58],[-.421,17.62],[-.348,17.77],[-.261,17.69],[-.311,17.61],[-.392,17.75],[-.149,17.67],[-.436,17.73],
[-.338,17.82],[-.274,17.88],[-.403,17.93],[-.217,17.84],[-.362,17.99],[-.163,17.91],[-.427,17.86],[-.301,18.02],[-.249,17.89],[-.386,17.83],[-.322,17.94],[-.184,18.01],[-.458,17.97],[-.236,17.96],[-.413,18.04],[-.293,17.85],[-.354,17.9],[-.138,17.96],[-.266,18.03],[-.443,17.82],[-.202,17.92],[-.374,17.88],[-.309,17.98],[-.243,17.81],[-.421,17.99],[-.172,17.84],[-.332,18.04],[-.286,17.92],[-.482,17.87],[-.224,18.01],[-.393,17.96],[-.348,17.81],[-.151,18.03],[-.271,17.94],[-.416,17.9],[-.317,17.87],[-.193,17.95],[-.258,17.83],[-.368,18.03],[-.451,17.91],[-.304,17.91],[-.208,18.05],[-.341,17.97],[-.246,17.99],[-.382,17.91],[-.161,17.87],[-.281,17.98],[-.434,18.03],[-.328,17.84],[-.221,17.88],[-.402,17.81],[-.269,17.86],[-.119,17.89],[-.357,17.93],[-.471,18.01],[-.232,17.92],[-.296,18.04],[-.184,17.82],[-.351,18.04],[-.424,17.94],[-.254,18.04],[-.313,17.82],[-.378,17.98],[-.204,17.85],[-.142,17.99],[-.439,17.85],[-.263,17.91],[-.326,18.01],[-.392,17.85],[-.177,17.97],[-.289,17.81],[-.214,17.98],[-.361,17.86],[-.491,17.94],[-.239,17.87],[-.311,17.89],[-.409,18.01],[-.153,17.82],[-.339,17.89],[-.277,17.83],[-.381,18.04],[-.228,17.95],[-.301,17.96],[-.418,17.83],[-.189,17.89],[-.346,17.95],[-.259,17.97],[-.407,17.97],[-.319,18.05],[-.234,17.82],[-.371,17.82],[-.128,17.83],[-.453,18.04],[-.292,18],[-.208,17.91],[-.342,17.85],[-.396,17.89],[-.167,17.93],[-.263,17.87],[-.329,17.91],
[-.331,18.07],[-.268,18.13],[-.396,18.18],[-.211,18.09],[-.355,18.24],[-.157,18.16],[-.419,18.11],[-.294,18.27],[-.242,18.14],[-.378,18.08],[-.314,18.19],[-.177,18.26],[-.448,18.22],[-.229,18.21],[-.405,18.29],[-.286,18.1],[-.346,18.15],[-.262,18.28],[-.433,18.07],[-.196,18.17],[-.366,18.13],[-.302,18.23],[-.236,18.06],[-.412,18.24],[-.323,18.29],[-.279,18.17],[-.218,18.26],[-.385,18.21],[-.341,18.06],[-.264,18.19],[-.408,18.15],[-.309,18.12],[-.187,18.2],[-.251,18.08],[-.361,18.28],[-.296,18.16],[-.372,18.17],[-.221,18.13],[-.335,18.22],[-.422,18.19],[-.257,18.24],[-.316,18.08],[-.389,18.27],[-.169,18.09],[-.281,18.21],[-.349,18.1],[-.244,18.29],[-.397,18.11],[-.308,18.26],[-.203,18.23]
];

function toXY(list) {
  return list.map(function (p) { return { x: p[0], y: p[1] }; });
}

const fieldData = toXY([].concat(outerUpperLeft, outerLowerLeft, outerLowerRight, redSideTail, clumpStars, clumpDense));
const coreData = toXY([].concat(bandStars, coreStars, coreDense));

const fontFamily = "'Liberation Sans', Arial, Helvetica, sans-serif";

// frame and inward ticks on all four sides
const frameTicks = {
  id: "frameTicks",
  afterDraw: function (chart) {
    const ctx = chart.ctx;
    const a = chart.chartArea;
    const xs = chart.scales.x;
    const ys = chart.scales.y;
    ctx.save();
    ctx.strokeStyle = "#000";
    ctx.lineWidth = 2;
    ctx.beginPath();
    function xTick(v, len) {
      const p = Math.round(xs.getPixelForValue(v));
      ctx.moveTo(p, a.top); ctx.lineTo(p, a.top + len);
      ctx.moveTo(p, a.bottom); ctx.lineTo(p, a.bottom - len);
    }
    function yTick(v, len) {
      const p = Math.round(ys.getPixelForValue(v));
      ctx.moveTo(a.left, p); ctx.lineTo(a.left + len, p);
      ctx.moveTo(a.right, p); ctx.lineTo(a.right - len, p);
    }
    xMinorTicks.forEach(function (v) { xTick(v, 20); });
    xMajorTicks.forEach(function (v) { xTick(v, 40); });
    yMinorTicks.forEach(function (v) { yTick(v, 20); });
    yMajorTicks.forEach(function (v) { yTick(v, 39); });
    ctx.stroke();
    ctx.lineWidth = 3;
    ctx.strokeRect(a.left, a.top, a.right - a.left, a.bottom - a.top);
    ctx.restore();
  }
};

const config = {
  type: "scatter",
  data: {
    datasets: [
      {
        label: "red",
        data: [{ x: redStar[0], y: redStar[1] }],
        pointRadius: 9,
        pointBackgroundColor: "#ff0000",
        pointBorderWidth: 0,
        order: 0
      },
      {
        label: "green",
        data: [{ x: greenStar[0], y: greenStar[1] }],
        pointRadius: 9,
        pointBackgroundColor: "#19f019",
        pointBorderWidth: 0,
        order: 0
      },
      {
        label: "green error",
        data: [{ x: greenErr[0], y: greenStar[1] }, { x: greenErr[1], y: greenStar[1] }],
        showLine: true,
        borderColor: "#19f019",
        borderWidth: 3,
        pointRadius: 0,
        order: 1
      },
      {
        label: "black",
        data: [{ x: blackStar[0], y: blackStar[2] }, { x: blackStar[1], y: blackStar[2] }],
        showLine: true,
        borderColor: "#000",
        borderWidth: 17,
        borderCapStyle: "butt",
        pointStyle: "line",
        rotation: 90,
        pointRadius: 12,
        pointBorderWidth: 8,
        pointBorderColor: "#000",
        order: 1
      },
      {
        label: "core",
        data: coreData,
        pointStyle: "rect",
        pointRadius: 2.6,
        pointBackgroundColor: "#000",
        pointBorderWidth: 0,
        order: 5
      },
      {
        label: "field",
        data: fieldData,
        pointStyle: "rect",
        pointRadius: 2.2,
        pointBackgroundColor: "#000",
        pointBorderWidth: 0,
        order: 6
      }
    ]
  },
  options: {
    responsive: false,
    animation: false,
    events: [],
    layout: { padding: { top: 25, right: 32, bottom: 0, left: 0 } },
    plugins: {
      legend: { display: false },
      tooltip: { enabled: false }
    },
    scales: {
      x: {
        type: "linear",
        min: -1,
        max: 0.5,
        grid: { display: false, drawTicks: false },
        border: { display: false },
        afterBuildTicks: function (s) { s.ticks = xTickValues.map(function (v) { return { value: v }; }); },
        afterFit: function (s) { s.height = 114; s.paddingLeft = 0; s.paddingRight = 0; },
        ticks: {
          padding: 23,
          color: "#000",
          font: { family: fontFamily, size: 34 },
          maxRotation: 0,
          callback: function (v) { return xTickText[xTickValues.indexOf(v)]; }
        },
        title: {
          display: true,
          text: "(V\u2212I) [instrumental]",
          color: "#000",
          font: { family: fontFamily, size: 38 },
          padding: { top: 0, bottom: 5 }
        }
      },
      y: {
        type: "linear",
        reverse: true,
        min: 14,
        max: 20,
        grid: { display: false, drawTicks: false },
        border: { display: false },
        afterBuildTicks: function (s) { s.ticks = yTickValues.map(function (v) { return { value: v }; }); },
        afterFit: function (s) { s.width = 178; s.paddingTop = 0; s.paddingBottom = 0; },
        ticks: {
          padding: 22,
          color: "#000",
          font: { family: fontFamily, size: 36 },
          callback: function (v) { return String(v); }
        },
        title: {
          display: true,
          text: "I [instrumental]",
          color: "#000",
          font: { family: fontFamily, size: 38 },
          padding: { top: 15, bottom: 0 }
        }
      }
    }
  },
  plugins: [frameTicks]
};

new Chart(document.getElementById("cmd"), config);
</script>
</body>
</html>
